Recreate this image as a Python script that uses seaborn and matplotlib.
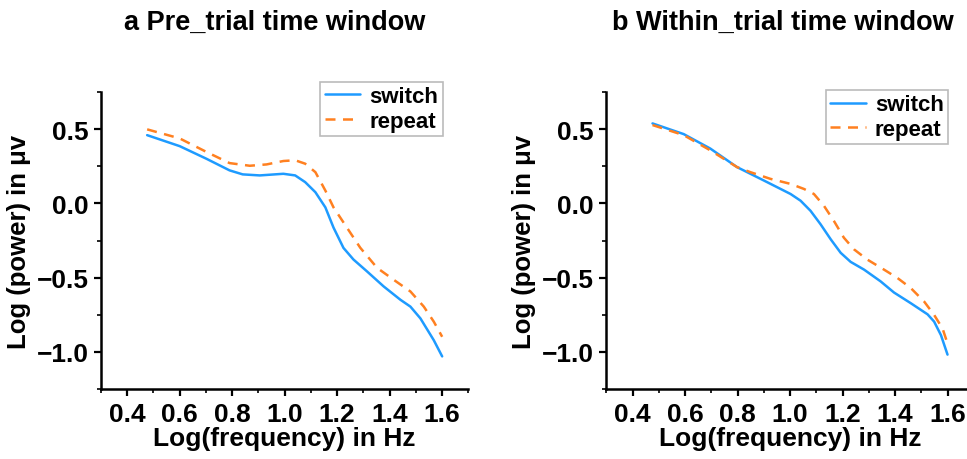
import pandas as pd
import matplotlib.pyplot as plt
import seaborn as sns
from matplotlib.ticker import MultipleLocator

# Panel a: pre-trial window
pre_switch_x = [0.476, 0.60, 0.702, 0.79, 0.84, 0.905, 0.995, 1.04, 1.078, 1.117, 1.155, 1.186,
                1.224, 1.262, 1.313, 1.377, 1.441, 1.479, 1.517, 1.568, 1.60]
pre_switch_y = [0.459, 0.385, 0.30, 0.222, 0.195, 0.188, 0.199, 0.188, 0.143, 0.075, -0.027, -0.163,
                -0.30, -0.378, -0.457, -0.559, -0.649, -0.695, -0.774, -0.921, -1.03]
pre_repeat_x = [0.476, 0.60, 0.702, 0.79, 0.867, 0.931, 0.995, 1.04, 1.078, 1.117, 1.155, 1.186,
                1.237, 1.288, 1.352, 1.415, 1.479, 1.53, 1.568, 1.60]
pre_repeat_y = [0.498, 0.437, 0.346, 0.271, 0.253, 0.262, 0.285, 0.29, 0.267, 0.21, 0.086, -0.027,
                -0.163, -0.299, -0.434, -0.514, -0.593, -0.695, -0.796, -0.898]

# Panel b: within-trial window
within_switch_x = [0.476, 0.595, 0.696, 0.798, 0.849, 0.90, 0.964, 1.002, 1.04, 1.078, 1.116, 1.155,
                   1.193, 1.231, 1.282, 1.345, 1.396, 1.46, 1.524, 1.549, 1.575, 1.60]
within_switch_y = [0.538, 0.466, 0.369, 0.244, 0.199, 0.154, 0.097, 0.063, 0.018, -0.05, -0.14, -0.242,
                   -0.333, -0.394, -0.446, -0.525, -0.60, -0.672, -0.747, -0.796, -0.887, -1.018]
within_repeat_x = [0.476, 0.595, 0.696, 0.798, 0.849, 0.925, 1.002, 1.053, 1.091, 1.129, 1.167, 1.205,
                   1.244, 1.294, 1.358, 1.409, 1.46, 1.511, 1.549, 1.581, 1.60]
within_repeat_y = [0.527, 0.459, 0.357, 0.244, 0.21, 0.165, 0.131, 0.097, 0.063, -0.016, -0.118, -0.231,
                   -0.31, -0.378, -0.446, -0.502, -0.57, -0.661, -0.751, -0.842, -0.943]

titles = ['a Pre_trial time window', 'b Within_trial time window']
palette = {'switch': '#1E9BFF', 'repeat': '#FF8020'}
dashes = {'switch': '', 'repeat': (4, 3)}


def make_frame(sx, sy, rx, ry):
    a = pd.DataFrame({'freq': sx, 'power': sy, 'condition': 'switch'})
    b = pd.DataFrame({'freq': rx, 'power': ry, 'condition': 'repeat'})
    return pd.concat([a, b], ignore_index=True)


frames = [make_frame(pre_switch_x, pre_switch_y, pre_repeat_x, pre_repeat_y),
          make_frame(within_switch_x, within_switch_y, within_repeat_x, within_repeat_y)]

sns.set_style('ticks')
plt.rcParams['font.family'] = ['Liberation Sans', 'DejaVu Sans']
plt.rcParams['font.weight'] = 'bold'
for k in ['text.color', 'axes.labelcolor', 'xtick.color', 'ytick.color']:
    plt.rcParams[k] = 'black'

fig = plt.figure(figsize=(9.67, 4.6), dpi=100)
axes = [fig.add_axes([0.1044, 0.152, 0.38, 0.646]),
        fig.add_axes([0.627, 0.152, 0.38, 0.646])]
title_x = [0.284, 0.81]
legend_anchor = [(0.93, 1.034), (0.93, 1.007)]

for ax, df, title, tx, anc in zip(axes, frames, titles, title_x, legend_anchor):
    sns.lineplot(data=df, x='freq', y='power', hue='condition', style='condition',
                 palette=palette, dashes=dashes, linewidth=1.8, sort=False, ax=ax)
    ax.set_xlim(0.3, 1.7)
    ax.set_ylim(-1.25, 0.75)
    ax.xaxis.set_minor_locator(MultipleLocator(0.1))
    ax.yaxis.set_major_locator(MultipleLocator(0.5))
    ax.yaxis.set_minor_locator(MultipleLocator(0.25))
    ax.set_xticks([0.4, 0.6, 0.8, 1.0, 1.2, 1.4, 1.6])
    ax.tick_params(which='major', direction='out', length=5, width=1.6, labelsize=19, pad=4)
    ax.tick_params(which='minor', direction='out', length=3, width=1.2)
    for lab in ax.get_xticklabels() + ax.get_yticklabels():
        lab.set_fontweight('bold')
    sns.despine(ax=ax)
    for s in ['left', 'bottom']:
        ax.spines[s].set_linewidth(1.8)
        ax.spines[s].set_color('black')
    ax.set_xlabel('Log(frequency) in Hz', fontsize=19, fontweight='bold', labelpad=0)
    ax.set_ylabel('Log (power) in μv', fontsize=18.5, fontweight='bold', labelpad=4)
    leg = ax.legend(loc='upper right', bbox_to_anchor=anc, fontsize=16, frameon=True,
                    fancybox=False, edgecolor='#bbbbbb', framealpha=1, handlelength=1.6,
                    borderpad=0.2, labelspacing=0.15, handletextpad=0.4, borderaxespad=0)
    leg.get_frame().set_linewidth(1.2)
    for t in leg.get_texts():
        t.set_fontweight('bold')
    fig.text(tx, 0.95, title, ha='center', va='center', fontsize=19.5, fontweight='bold')

fig.savefig('out.png', dpi=100)
